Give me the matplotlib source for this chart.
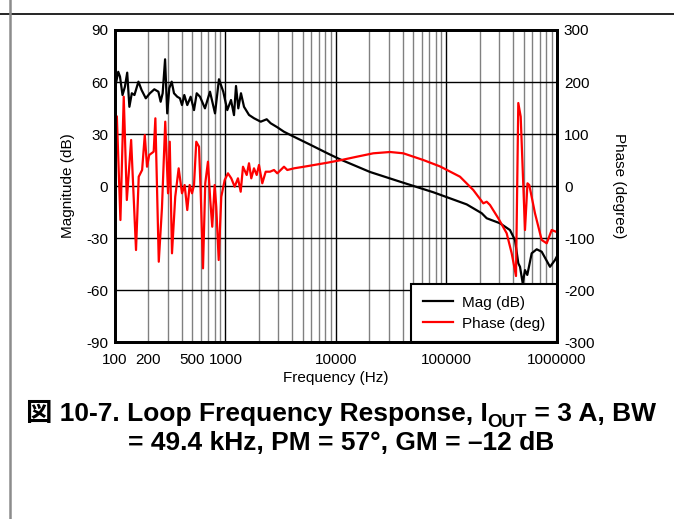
import matplotlib
matplotlib.use("Agg")
import matplotlib.pyplot as plt
from matplotlib.lines import Line2D

plt.rcParams['font.family'] = ['Liberation Sans', 'Noto Sans CJK JP']
plt.rcParams['axes.unicode_minus'] = False

# magnitude trace (Hz, dB)
mag_freq = [101, 107, 111, 117, 123, 129, 135, 142, 150, 163, 174, 190, 207, 227,
            247, 259, 270, 284, 297, 310, 326, 342, 366, 387, 404, 424, 451, 484,
            519, 549, 588, 652, 724, 804, 873, 955, 1038, 1122, 1194, 1245, 1306,
            1381, 1471, 1632, 1811, 2083, 2360, 2564, 2943, 3384, 4169, 5902, 8343,
            10870, 20310, 37950, 75950, 152300, 208300, 231100, 305000, 375500,
            416800, 446500, 462700, 489400, 513300, 538500, 590300, 655000, 727000,
            864600, 959200, 1000000]
mag_db = [57.7, 65.9, 63.1, 52.5, 57.3, 65.4, 45.7, 53.5, 52.5, 60.2, 55.4, 50.6, 53.5,
          55.8, 54.4, 48.6, 53.5, 73.1, 41.9, 56.4, 60.2, 53.5, 51.5, 50.6, 46.7, 52.5,
          46.7, 51.5, 43.8, 53.5, 51.5, 44.8, 54.4, 41.9, 61.6, 54.4, 43.8, 49.6, 40.9,
          57.7, 44.8, 53.5, 45.7, 41.0, 39.1, 37.1, 38.5, 36.2, 33.9, 31.3, 28.4, 23.7,
          18.9, 15.4, 8.1, 2.5, -3.6, -10.6, -15.7, -18.6, -21.5, -25.4, -31.2, -44.6,
          -46.6, -56.1, -48.5, -51.3, -38.8, -36.5, -37.9, -46.6, -42.7, -40.5]

# phase trace (Hz, degree)
phase_freq = [104, 112, 120, 128, 140, 155, 164, 176, 186, 195, 204, 224, 232, 249,
              266, 285, 302, 313, 328, 351, 377, 404, 427, 451, 474, 498, 519, 544,
              576, 597, 626, 656, 694, 728, 759, 798, 825, 868, 916, 984, 1053, 1128,
              1211, 1297, 1373, 1440, 1556, 1632, 1712, 1811, 1916, 2010, 2153, 2311,
              2527, 2748, 2943, 3159, 3384, 3625, 4169, 5132, 6322, 8343, 10870, 15400,
              21760, 30810, 40650, 61660, 87360, 132500, 174800, 215300, 231100,
              247600, 294400, 350500, 389000, 425600, 446500, 469400, 513300, 540700,
              561400, 632200, 727000, 807000, 895400, 993800]
phase_deg = [133.3, -65.4, 171.7, -26.9, 88.5, -123.1, 17.9, 30.8, 98.1, 37.1, 59.6,
             66.0, 130.2, -145.6, -42.9, 123.7, -14.0, 85.2, -129.4, -20.6, 34.0, -14.0,
             1.9, -46.2, 1.9, -14.0, 1.9, 85.2, 75.6, -14.0, -158.3, 5.2, 46.7, -26.9,
             -78.3, 1.9, -39.8, -142.3, -20.6, 11.5, 24.4, 14.8, -1.3, 14.8, -11.0, 37.1,
             21.2, 43.7, 14.8, 34.0, 21.2, 40.4, 5.2, 27.5, 27.5, 30.8, 24.4, 30.8, 37.1,
             30.8, 34.0, 37.1, 40.4, 44.8, 49.4, 56.3, 62.9, 65.4, 62.9, 50.0, 37.7, 17.9,
             -7.7, -33.3, -30.2, -36.5, -62.1, -90.9, -129.4, -173.1, 159.6, 133.3, -84.6,
             5.2, 1.9, -52.5, -103.8, -110.2, -84.6, -88.5]

x_major = [100, 1000, 10000, 100000, 1000000]
x_major_labels = ['100', '1000', '10000', '100000', '1000000']
x_minor = [k * d for d in [100, 1000, 10000, 100000] for k in range(2, 10)]
x_minor_labels = ['200' if v == 200 else '500' if v == 500 else '' for v in x_minor]
mag_ticks = [-90, -60, -30, 0, 30, 60, 90]
phase_ticks = [-300, -200, -100, 0, 100, 200, 300]

fig = plt.figure(figsize=(6.74, 5.19), dpi=100)
ax = fig.add_axes([0.1706, 0.3410, 0.6558, 0.6012])
ax.set_xscale('log')
ax.set_xlim(100, 1e6)
ax.set_ylim(-90, 90)
ax.set_xticks(x_major, labels=x_major_labels)
ax.set_xticks(x_minor, labels=x_minor_labels, minor=True)
ax.set_yticks(mag_ticks)
ax.grid(which='major', color='black', lw=1.0)
ax.grid(which='minor', axis='x', color='#808080', lw=1.0)
ax.tick_params(which='both', length=0, labelsize=11, pad=8)
ax.tick_params(axis='y', pad=5)
ax.set_xlabel('Frequency (Hz)', fontsize=11, labelpad=3)
ax.set_ylabel('Magnitude (dB)', fontsize=11, labelpad=8)

ax2 = ax.twinx()
ax2.set_ylim(-300, 300)
ax2.set_yticks(phase_ticks)
ax2.tick_params(length=0, labelsize=11, pad=5)
ax2.set_ylabel('Phase (degree)', fontsize=11, rotation=270, labelpad=23)

for a in (ax, ax2):
    for s in a.spines.values():
        s.set_linewidth(2)

l1, = ax.plot(mag_freq, mag_db, color='black', lw=1.6, label='Mag (dB)')
l2, = ax2.plot(phase_freq, phase_deg, color='#ff0000', lw=1.6, label='Phase (deg)')

leg = ax2.legend(handles=[l1, l2], loc='lower right', fontsize=11, fancybox=False,
                 framealpha=1, edgecolor='black', borderaxespad=0, handlelength=2.0,
                 handletextpad=0.6, labelspacing=0.45, borderpad=0.75)
leg.get_frame().set_linewidth(1.5)

# page frame lines
fig.add_artist(Line2D([0, 1], [1 - 14 / 519, 1 - 14 / 519], color='black', lw=1.2,
                      transform=fig.transFigure))
fig.add_artist(Line2D([10 / 674, 10 / 674], [0, 1], color='#8c8c8c', lw=1.8,
                      transform=fig.transFigure))

# caption, drawn piece by piece to get the subscript
r = fig.canvas.get_renderer()


def caption_line(pieces, y_px, cx_px=341):
    arts = []
    for txt, size, dy in pieces:
        t = fig.text(0, 1 - (y_px + dy) / 519, txt, fontsize=size, fontweight='bold',
                     va='baseline', ha='left')
        arts.append(t)
    widths = [a.get_window_extent(r).width for a in arts]
    x = cx_px - sum(widths) / 2
    for a, w in zip(arts, widths):
        a.set_x(x / 674)
        x += w


caption_line([('図 10-7. Loop Frequency Response, I', 19, 0),
              ('OUT', 13.5, 6),
              (' = 3 A, BW', 19, 0)], 421)
caption_line([('= 49.4 kHz, PM = 57°, GM = –12 dB', 19, 0)], 450)

fig.savefig('out.png', dpi=100)
